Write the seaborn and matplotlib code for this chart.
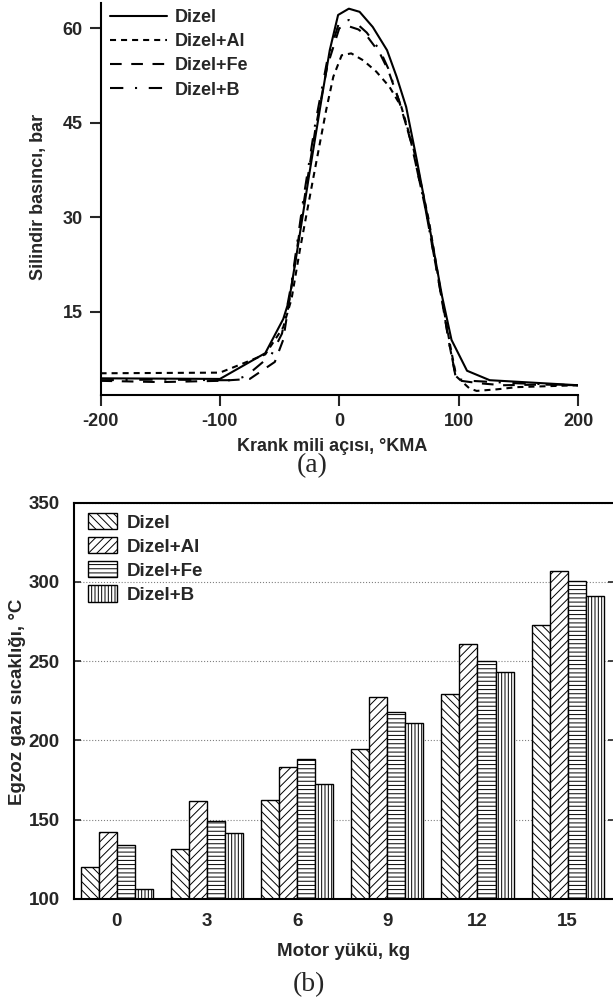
import numpy as np
import pandas as pd
import matplotlib
matplotlib.use("Agg")
import matplotlib.pyplot as plt
import seaborn as sns

# (a) cylinder pressure vs crank angle
ang_dizel = [-200, -100, -62, -47, -42, -35, -25, -15, -8, -1, 8, 17, 28, 40, 48, 56, 65, 75, 86, 94, 107, 126, 200]
p_dizel = [4.4, 4.3, 8.4, 13.8, 16.8, 25, 37, 48.6, 56.5, 62.1, 63.1, 62.6, 60.2, 56.5, 52.3, 47.5, 39, 29, 17.5, 10.5, 5.6, 4.1, 3.3]

ang_al = [-200, -100, -84, -62, -47, -40, -33, -22, -11, -5, 2, 10, 20, 31, 42, 52, 62, 75, 86, 93, 98, 109, 115, 132, 149, 200]
p_al = [5.2, 5.3, 6.5, 8.2, 12.5, 17, 24.8, 36, 47, 52.3, 55.7, 56.0, 54.9, 53.1, 50.7, 47.5, 41, 29.5, 17, 9.5, 4.7, 2.8, 2.4, 2.65, 3.0, 3.3]

ang_fe = [-200, -150, -100, -75, -54, -47, -40, -30, -20, -10, 0, 8, 16, 23, 34, 41, 50, 60, 72, 84, 92, 98, 110, 118, 137, 170, 200]
p_fe = [4.0, 3.8, 4.0, 4.3, 7.0, 10.5, 19, 32, 44, 54, 60, 60.3, 59.8, 58.8, 56, 53.3, 48.5, 42, 31.5, 19, 10, 4.1, 3.8, 3.6, 3.3, 3.4, 3.3]

ang_b = [-200, -150, -100, -89, -78, -57, -48, -40, -30, -20, -10, 0, 8, 16, 23, 34, 41, 50, 60, 72, 84, 92, 98, 110, 150, 200]
p_b = [4.1, 4.2, 4.1, 4.1, 4.75, 8.1, 11.5, 19.5, 33, 45, 55, 61, 61.3, 60.5, 59.3, 56.5, 53.6, 48.5, 42, 31.5, 19, 10, 4.3, 4.0, 3.6, 3.3]

# (b) exhaust gas temperature vs engine load
loads = ["0", "3", "6", "9", "12", "15"]
fuels = ["Dizel", "Dizel+Al", "Dizel+Fe", "Dizel+B"]
t_dizel = [120.2, 131.5, 162.6, 194.5, 229.2, 272.7]
t_al = [142.2, 161.6, 183.2, 227.3, 260.7, 307.1]
t_fe = [133.8, 149.4, 188.2, 217.9, 250.0, 300.4]
t_b = [106.3, 141.4, 172.3, 211.1, 243.5, 291.4]

sns.set_style("ticks")
plt.rcParams["font.family"] = ["Liberation Sans", "DejaVu Sans"]
plt.rcParams["font.weight"] = "bold"
plt.rcParams["axes.labelweight"] = "bold"
plt.rcParams["axes.unicode_minus"] = False
plt.rcParams["hatch.linewidth"] = 0.7
plt.rcParams["axes.edgecolor"] = "black"

fig = plt.figure(figsize=(6.13, 10.01), dpi=100)
ax1 = fig.add_axes([0.164, 0.6054, 0.779, 0.3916])
ax2 = fig.add_axes([0.12, 0.1019, 0.8825, 0.3959])

# ---- top panel
curves = [
    (ang_dizel, p_dizel, "Dizel", "-"),
    (ang_al, p_al, "Dizel+Al", (0, (2.9, 2.4))),
    (ang_fe, p_fe, "Dizel+Fe", (0, (5.6, 4.6))),
    (ang_b, p_b, "Dizel+B", (0, (6.4, 5.6, 1.0, 5.6))),
]
for xs, ys, lab, ls in curves:
    sns.lineplot(x=xs, y=ys, ax=ax1, color="black", linewidth=1.5,
                 linestyle=ls, label=lab)

ax1.set_xlim(-200, 200)
ax1.set_ylim(1.75, 64)
ax1.set_xticks([-200, -100, 0, 100, 200])
ax1.set_yticks([15, 30, 45, 60])
sns.despine(ax=ax1)
for s in ["left", "bottom"]:
    ax1.spines[s].set_linewidth(1.5)
ax1.tick_params(direction="out", length=8, width=1.5, labelsize=13, pad=5)
ax1.set_xlabel("Krank mili açısı, °KMA", fontsize=13)
ax1.set_ylabel("Silindir basıncı, bar", fontsize=13)
ax1.xaxis.set_label_coords(0.486, -0.11)
ax1.yaxis.set_label_coords(-0.112, 0.505)
ax1.legend(loc="upper left", bbox_to_anchor=(0.02, 0.985), frameon=False,
           fontsize=13, handlelength=3.14, handletextpad=0.45,
           labelspacing=0.4, borderpad=0, borderaxespad=0)

# ---- bottom panel
df = pd.DataFrame({
    "load": loads * 4,
    "fuel": np.repeat(fuels, len(loads)),
    "temp": t_dizel + t_al + t_fe + t_b,
})
sns.barplot(data=df, x="load", y="temp", hue="fuel", order=loads,
            hue_order=fuels, palette=["white"] * 4, edgecolor="black",
            linewidth=1.0, errorbar=None, ax=ax2, legend=False)
hatches = ["\\\\\\\\", "////", "----", "|||||"]
for cont, h in zip(ax2.containers, hatches):
    for bar in cont:
        bar.set_hatch(h)
        bar.set_edgecolor("black")

ax2.set_xlim(-0.48, 5.52)
ax2.set_ylim(100, 350)
ax2.set_yticks([100, 150, 200, 250, 300, 350])
ax2.yaxis.grid(True, linestyle=":", color="grey", linewidth=0.8)
ax2.set_axisbelow(True)
for s in ax2.spines.values():
    s.set_linewidth(1.5)
ax2.tick_params(axis="y", direction="in", length=5, width=1.2, labelsize=13.5,
                pad=10, right=True)
ax2.tick_params(axis="x", length=0, labelsize=13.5, pad=10)
ax2.set_xlabel("Motor yükü, kg", fontsize=13.5)
ax2.set_ylabel("Egzoz gazı sıcaklığı, °C", fontsize=13.5)
ax2.xaxis.set_label_coords(0.499, -0.11)
ax2.yaxis.set_label_coords(-0.087, 0.498)
ax2.legend(handles=ax2.containers, labels=fuels, loc="upper left",
           bbox_to_anchor=(0.027, 0.974), frameon=False, fontsize=13.5,
           handlelength=1.55, handleheight=0.95, handletextpad=0.5,
           labelspacing=0.3, borderpad=0, borderaxespad=0)

fig.text(0.509, 1 - 466 / 1001, "(a)", family="Liberation Serif",
         weight="normal", fontsize=20, ha="center", va="center")
fig.text(0.504, 1 - 985 / 1001, "(b)", family="Liberation Serif",
         weight="normal", fontsize=20, ha="center", va="center")

fig.savefig("out.png", dpi=100)
